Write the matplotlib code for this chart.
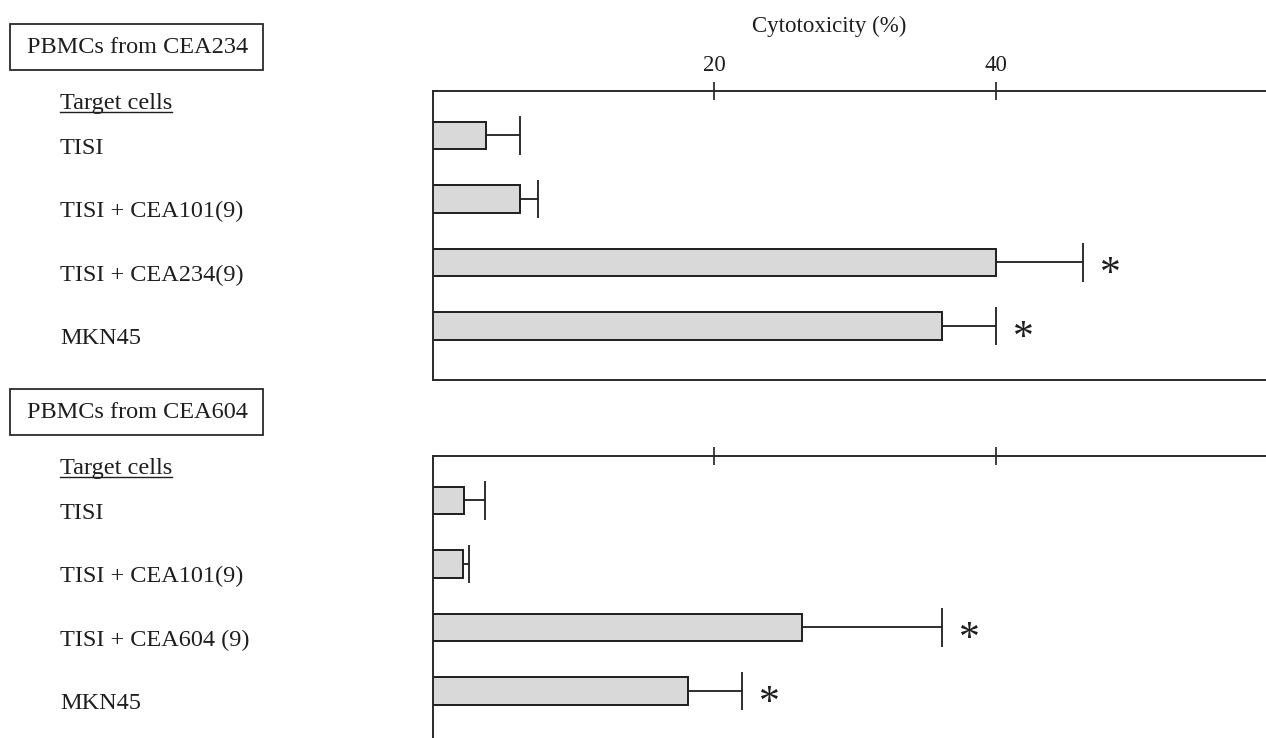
import matplotlib
matplotlib.use("Agg")
import matplotlib.pyplot as plt
import matplotlib.transforms as mtransforms
from matplotlib.patches import Rectangle
from matplotlib.lines import Line2D

plt.rcParams['font.family'] = ['Liberation Serif', 'DejaVu Serif']

# data (cytotoxicity %, mean and +SD)
labels_234 = ["TISI", "TISI + CEA101(9)", "TISI + CEA234(9)", "MKN45"]
values_234 = [3.75, 6.2, 40.0, 36.2]
errors_234 = [2.45, 1.25, 6.2, 3.8]
signif_234 = [False, False, True, True]

labels_604 = ["TISI", "TISI + CEA101(9)", "TISI + CEA604 (9)", "MKN45"]
values_604 = [2.2, 2.1, 26.2, 18.1]
errors_604 = [1.5, 0.45, 10.0, 3.9]
signif_604 = [False, False, True, True]

ticks = [20, 40]
ink = '#1e1e1e'
W, H = 1266, 738

fig = plt.figure(figsize=(W / 100, H / 100), dpi=100)

def px_box(left, top, right, bottom):
    return [left / W, 1 - bottom / H, (right - left) / W, (bottom - top) / H]

ax1 = fig.add_axes(px_box(433, 91, 1277, 380))
ax2 = fig.add_axes(px_box(433, 456, 1277, 745))


def panel(ax, labels, values, errors, signif, title, show_ticklabels):
    y = list(range(len(values)))
    ax.barh(y, values, height=0.43, color='#d9d9d9', edgecolor=ink, linewidth=1.4, zorder=2)
    ends = [v + e for v, e in zip(values, errors)]
    ax.hlines(y, values, ends, color=ink, linewidth=1.3, zorder=1)
    ax.vlines(ends, [i - 0.3 for i in y], [i + 0.3 for i in y], color=ink, linewidth=1.3)
    for i, s in enumerate(signif):
        if s:
            ax.text(ends[i] + 1.95, i + 0.2, "*", fontsize=30, ha='center', va='center', color=ink)

    ax.set_xlim(0, 60)
    ax.set_ylim(3.85, -0.7)
    ax.set_yticks([])
    ax.xaxis.tick_top()
    ax.set_xticks(ticks)
    ax.tick_params(axis='x', direction='inout', length=13, width=1.2, color=ink,
                   labelsize=16.5, pad=4, labeltop=show_ticklabels, labelcolor=ink)
    for side in ['top', 'left', 'bottom', 'right']:
        ax.spines[side].set_linewidth(1.4)
        ax.spines[side].set_color('#2a2a2a')

    # category labels on the left, left-aligned
    trans = mtransforms.blended_transform_factory(fig.transFigure, ax.transData)
    for i, lab in enumerate(labels):
        ax.text(60 / W, i + 0.2, lab, transform=trans, fontsize=17.5, ha='left', va='center',
                color=ink, clip_on=False)
    tc = ax.text(60 / W, -0.51, "Target cells", transform=trans, fontsize=17.5, ha='left',
                 va='center', color=ink, clip_on=False)
    hd = ax.text(27 / W, -1.39, title, transform=trans, fontsize=17.5, ha='left', va='center',
                 color=ink, clip_on=False)
    return tc, hd


tc1, hd1 = panel(ax1, labels_234, values_234, errors_234, signif_234, "PBMCs from CEA234", True)
tc2, hd2 = panel(ax2, labels_604, values_604, errors_604, signif_604, "PBMCs from CEA604", False)

ax1.set_xlabel("Cytotoxicity (%)", fontsize=16.5, color=ink, labelpad=17)
ax1.xaxis.set_label_position('top')
ax1.xaxis.label.set_x(0.47)

# underline "Target cells" and frame the panel headers
fig.canvas.draw()
r = fig.canvas.get_renderer()
for t in (tc1, tc2):
    bb = t.get_window_extent(r)
    yl = bb.y0 + 2
    fig.add_artist(Line2D([bb.x0 / W, bb.x1 / W], [yl / H, yl / H], color=ink, linewidth=1.0))
for t in (hd1, hd2):
    bb = t.get_window_extent(r)
    cy = (bb.y0 + bb.y1) / 2
    fig.add_artist(Rectangle((10 / W, (cy - 23) / H), 253 / W, 46 / H, fill=False,
                             edgecolor='#2a2a2a', linewidth=1.3))

fig.savefig("out.png", dpi=100)
